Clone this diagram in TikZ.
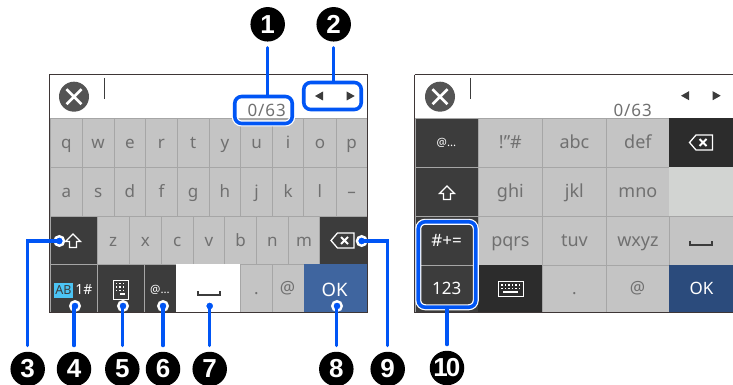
\documentclass[tikz,border=0pt]{standalone}
\usepackage{fontspec}
\setmainfont{Noto Sans}
\newfontfamily\numfont{Liberation Sans}
\definecolor{callout}{HTML}{0055F5}
\definecolor{keygray}{HTML}{C4C4C4}
\definecolor{keyblank}{HTML}{D2D4D2}
\definecolor{keyline}{HTML}{A6A6A6}
\definecolor{keydark}{HTML}{3C3C3C}
\definecolor{keydarker}{HTML}{2C2C2C}
\definecolor{keyblue}{HTML}{3F659F}
\definecolor{keyblued}{HTML}{2B4B7C}
\definecolor{keytext}{HTML}{707070}
\definecolor{frameline}{HTML}{3E3636}
\definecolor{abblue}{HTML}{4CC4F4}
\tikzset{
  keycell/.style={draw=keyline,line width=.8pt,inner sep=0pt,anchor=north west,
    text=keytext,font=\fontsize{17}{17}\selectfont,text height=13pt,text depth=1pt},
  graykey/.style={keycell,fill=keygray},
  widegray/.style={graykey,font=\fontsize{18}{18}\selectfont},
  darkkey/.style={keycell,fill=keydark,text=white},
  darkerkey/.style={keycell,fill=keydarker,draw=keydarker,text=white},
  bluekey/.style={keycell,fill=keyblue,draw=keyblue,text=white},
  bluedkey/.style={keycell,fill=keyblued,draw=keyblued,text=white},
  whitekey/.style={keycell,fill=white,draw=white},
  blankkey/.style={keycell,fill=keyblank,draw=keyblank},
  panelframe/.style={draw=frameline,line width=1pt},
  number/.style={circle,fill=black,minimum size=34.5pt,inner sep=0pt,text=white,
    font=\numfont\bfseries\fontsize{26}{26}\selectfont},
  calloutbox/.style={rounded corners=7pt,draw=callout,line width=3.6pt,inner sep=0pt,
    preaction={draw=white,line width=6pt}},
  calloutdot/.style={circle,fill=callout,draw=white,line width=2.4pt,minimum size=9.5pt,inner sep=0pt},
  leader/.style={draw=callout,line width=3.4pt,line cap=round,line join=miter},
  counter/.style={text=keytext,inner sep=0pt,font=\fontsize{17}{17}\selectfont\addfontfeature{LetterSpace=5}},
  arrowtri/.style={fill=keydark},
  icon/.style={draw=white,line width=1.2pt,line join=miter},
  spacemark/.style={draw=keydark,line width=2pt}
}
\newcommand{\kk}[7]{\node[#6,minimum width=#4 pt-#2 pt,minimum height=#5 pt-#3 pt] (#1) at (#2,#3) {#7};}
\newcommand{\shifticon}[2]{\draw[icon] (#1-7.5,#2+.5) -- (#1,#2-7) -- (#1+7.5,#2+.5) -- (#1+3.5,#2+.5) -- (#1+3.5,#2+6.5) -- (#1-3.5,#2+6.5) -- (#1-3.5,#2+.5) -- cycle;}
\newcommand{\backicon}[2]{%
  \draw[icon,line width=1.3pt] (#1-11.5,#2) -- (#1-5,#2-7.5) -- (#1+11.5,#2-7.5) -- (#1+11.5,#2+7.5) -- (#1-5,#2+7.5) -- cycle;
  \draw[icon,line width=1.8pt] (#1-1.5,#2-3.5) -- (#1+5.5,#2+3.5) (#1-1.5,#2+3.5) -- (#1+5.5,#2-3.5);}
\newcommand{\closeicon}[2]{%
  \fill[fill=black!67] (#1,#2) circle (15pt);
  \draw[white,line width=2.6pt] (#1-7.5,#2-7.5) -- (#1+7.5,#2+7.5) (#1-7.5,#2+7.5) -- (#1+7.5,#2-7.5);}
\newcommand{\spaceicon}[2]{\draw[spacemark] (#1-11,#2-2.5) -- (#1-11,#2+1.5) -- (#1+11,#2+1.5) -- (#1+11,#2-2.5);}
\newcommand{\tris}[3]{%
  \fill[arrowtri] (#1-4,#3) -- (#1+4,#3-4.5) -- (#1+4,#3+4.5) -- cycle;
  \fill[arrowtri] (#2+4,#3) -- (#2-4,#3-4.5) -- (#2-4,#3+4.5) -- cycle;}
\begin{document}
\begin{tikzpicture}[x=1pt,y=-1pt]
\useasboundingbox (0,0) rectangle (733,385);
% ---------- left panel
\fill[white] (49.5,75) rectangle (367,118);
\foreach \n/\a/\b in {q/50/82,w/82/113.5,e/113.5/145.3,r/145.3/176.8,t/176.8/208.7,y/208.7/240.3,u/240.3/272,i/272/303.4,o/303.4/335.6,p/335.6/367}{
  \kk{k\n}{\a}{118}{\b}{167}{graykey}{\n}}
\foreach \n/\a/\b in {a/50/82,s/82/113.5,d/113.5/145.3,f/145.3/176.8,g/176.8/208.7,h/208.7/240.3,j/240.3/272,k/272/303.4,l/303.4/335.6}{
  \kk{k\n}{\a}{167}{\b}{216}{graykey}{\n}}
\kk{kdash}{335.6}{167}{367}{216}{graykey}{–}
\kk{kshift}{50}{216}{96.5}{264}{darkkey}{}
\foreach \n/\a/\b in {z/96.5/129,x/129/161,c/161/192.7,v/192.7/224.3,b/224.3/256,n/256/287.7,m/287.7/319.4}{
  \kk{k\n}{\a}{216}{\b}{264}{graykey}{\n}}
\kk{kback}{319.4}{216}{367}{264}{darkkey}{}
\kk{kmode}{50}{264}{97}{312}{darkkey}{}
\kk{kpad}{97}{264}{144}{312}{darkkey}{}
\kk{kat}{144}{264}{176}{312}{darkkey}{}
\kk{kspace}{176}{264}{240}{312}{whitekey}{}
\kk{kdot}{240}{264}{272}{312}{graykey}{.}
\kk{kmail}{272}{264}{304}{312}{graykey}{}
\kk{kok}{304}{264}{367}{312}{bluekey}{}
\draw[panelframe] (49.5,75) rectangle (367,312);
\closeicon{74}{96.7}
\draw[keydark,line width=1.3pt] (104.7,78) -- (104.7,99);
\node[counter] (cnt) at (266.7,110) {0/63};
\draw[keyline,line width=.8pt] (239,119) -- (288,119);
\tris{319}{350.7}{96}
\shifticon{73}{241}
\backicon{342.5}{240.5}
% mode key
\fill[abblue] (54,283) rectangle (73,298);
\node[inner sep=0pt,text=keydark,font=\bfseries\fontsize{12.5}{13}\selectfont] (ab) at (63.5,290.5) {AB};
\node[inner sep=0pt,text=white,font=\fontsize{14}{14}\selectfont] (oneh) at (84,289.5) {1\#};
% keypad icon
\draw[white,line width=.9pt] (113.5,280.5) rectangle (128.5,299);
\foreach \px in {116.5,120,123.5}{\foreach \py in {283.5,287,290.5}{\fill[white] (\px-.9,\py-.9) rectangle (\px+.9,\py+.9);}}
\fill[white] (120.1,293.3) rectangle (125.3,295.1);
\node[inner sep=0pt,text=white,font=\fontsize{11.5}{12}\selectfont] (atdots) at (160,290) {@...};
\spaceicon{208.5}{293.5}
\node[inner sep=0pt,text=keytext,font=\fontsize{17}{17}\selectfont] (atsign) at (287.5,288.5) {@};
\node[inner sep=0pt,text=white,font=\fontsize{18.5}{19}\selectfont] (oklabel) at (334.5,290) {OK};
% ---------- right panel
\fill[white] (414.5,75) rectangle (733,118);
\kk{ra}{414.5}{118}{478}{167}{darkkey}{}
\kk{rb}{478}{118}{542}{167}{widegray}{!"\#}
\kk{rc}{542}{118}{606}{167}{widegray}{abc}
\kk{rd}{606}{118}{669}{167}{widegray}{def}
\kk{re}{669}{118}{733}{167}{darkerkey}{}
\kk{rf}{414.5}{167}{478}{216}{darkkey}{}
\kk{rg}{478}{167}{542}{216}{widegray}{ghi}
\kk{rh}{542}{167}{606}{216}{widegray}{jkl}
\kk{ri}{606}{167}{669}{216}{widegray}{mno}
\kk{rj}{669}{167}{733}{216}{blankkey}{}
\kk{rk}{414.5}{216}{478}{265}{darkkey}{\#+=}
\kk{rl}{478}{216}{542}{265}{widegray}{pqrs}
\kk{rm}{542}{216}{606}{265}{widegray}{tuv}
\kk{rn}{606}{216}{669}{265}{widegray}{wxyz}
\kk{ro}{669}{216}{733}{265}{graykey}{}
\kk{rp}{414.5}{265}{478}{312}{darkkey}{123}
\kk{rq}{478}{265}{542}{312}{darkerkey}{}
\kk{rr}{542}{265}{606}{312}{graykey}{.}
\kk{rs}{606}{265}{669}{312}{graykey}{}
\kk{rt}{669}{265}{733}{312}{bluedkey}{OK}
\draw[panelframe] (414.5,75) -- (733,75) (414.5,75) -- (414.5,312) -- (733,312);
\closeicon{440}{96.7}
\draw[keydark,line width=1.3pt] (470.7,78) -- (470.7,99);
\node[counter] (cnt2) at (632.7,110) {0/63};
\tris{685}{716.7}{95.7}
\node[inner sep=0pt,text=white,font=\fontsize{11.5}{12}\selectfont] (ratdots) at (446.5,143) {@...};
\backicon{701}{142.5}
\shifticon{447}{193}
\spaceicon{701}{243}
\draw[white,line width=.9pt] (498,281.5) rectangle (523,296.5);
\foreach \px in {502,505.5,509,512.5,516,519.5}{\fill[white] (\px-.8,284) rectangle (\px+.8,285.6);\fill[white] (\px-.8,287.6) rectangle (\px+.8,289.2);}
\fill[white] (503,291.4) rectangle (518,293.2);
\node[inner sep=0pt,text=keytext,font=\fontsize{17}{17}\selectfont] (ratsign) at (637.5,288.5) {@};
% ---------- callouts
\node[calloutbox,minimum width=57.5pt,minimum height=27pt] (b1) at (263.5,110) {};
\node[calloutbox,minimum width=57.5pt,minimum height=27pt] (b2) at (332.5,96) {};
\node[calloutbox,minimum width=57.5pt,minimum height=85.5pt] (b10) at (447,264.5) {};
\node[number] (n1) at (267.7,24.3) {1};
\node[number] (n2) at (333.7,24.3) {2};
\node[number] (n3) at (27.7,369) {3};
\node[number] (n4) at (74,369) {4};
\node[number] (n5) at (122.3,369) {5};
\node[number] (n6) at (163,369) {6};
\node[number] (n7) at (209.7,369) {7};
\node[number] (n8) at (336.3,369) {8};
\node[number] (n9) at (387.7,369) {9};
\node[number] (n10) at (447,368) {\kern-.5pt1\kern-2pt 0};
\node[calloutdot] (d3) at (59.3,241) {};
\node[calloutdot] (d4) at (75,306) {};
\node[calloutdot] (d5) at (123,306) {};
\node[calloutdot] (d6) at (163,306) {};
\node[calloutdot] (d7) at (209.7,306) {};
\node[calloutdot] (d8) at (337,306) {};
\node[calloutdot] (d9) at (361.7,241) {};
\draw[leader,shorten <=6pt] (n1.south) -- (n1.south |- b1.north);
\draw[leader,shorten <=6pt] (n2.south) -- (n2.south |- b2.north);
\draw[leader,shorten <=6pt] (n3.north) |- (d3.center);
\draw[leader,shorten <=6pt] (n4.north) -- (n4.north |- d4.center);
\draw[leader,shorten <=6pt] (n5.north) -- (n5.north |- d5.center);
\draw[leader,shorten <=6pt] (n6.north) -- (n6.north |- d6.center);
\draw[leader,shorten <=6pt] (n7.north) -- (n7.north |- d7.center);
\draw[leader,shorten <=6pt] (n8.north) -- (n8.north |- d8.center);
\draw[leader,shorten <=6pt] (n9.north) |- (d9.center);
\draw[leader,shorten <=6pt] (n10.north) -- (n10.north |- b10.south);
\end{tikzpicture}
\end{document}
